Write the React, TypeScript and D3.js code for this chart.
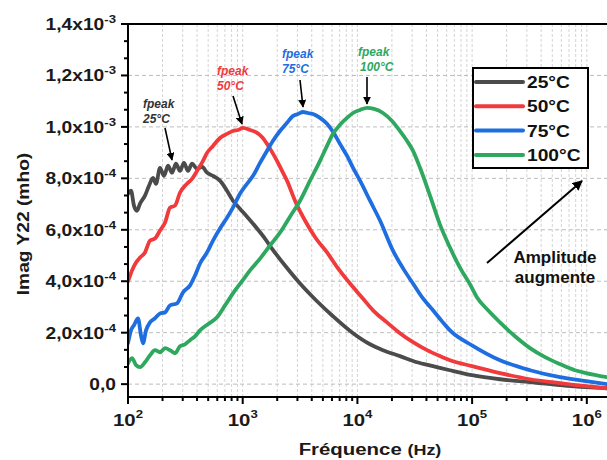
import React from "react";
import * as d3 from "d3";

// log10(frequency / Hz), Imag Y22 in units of 1e-4 mho
const S25_LF = [2.0,2.026,2.052,2.078,2.105,2.148,2.183,2.218,2.244,2.279,2.314,2.349,2.384,2.418,2.453,2.488,2.523,2.558,2.602,2.645,2.689,2.741,2.802,2.863,2.915,2.976,3.038,3.125,3.194,3.255,3.369,3.5,3.639,3.787,3.962,4.11,4.223,4.371,4.52,4.659,4.807,4.999,5.243,5.505,5.766,5.993,6.176];
const S25_V = [7.40,7.52,6.94,6.74,7.02,7.33,7.71,8.02,7.79,8.41,8.10,8.49,8.22,8.57,8.29,8.60,8.29,8.57,8.37,8.45,8.22,8.10,7.91,7.52,7.13,6.82,6.51,6.05,5.66,5.27,4.61,3.91,3.26,2.64,1.98,1.55,1.32,1.09,0.85,0.70,0.54,0.35,0.19,0.08,-0.04,-0.12,-0.16];

const S50_LF = [2.0,2.035,2.07,2.105,2.148,2.192,2.235,2.279,2.323,2.366,2.41,2.453,2.514,2.558,2.602,2.654,2.689,2.741,2.802,2.863,2.915,2.959,3.002,3.064,3.125,3.168,3.212,3.255,3.299,3.343,3.386,3.456,3.543,3.639,3.735,3.831,3.936,4.04,4.136,4.258,4.371,4.485,4.607,4.72,4.807,4.999,5.243,5.505,5.766,5.993,6.176];
const S50_V = [3.99,4.42,4.73,4.92,5.12,5.58,5.66,5.97,6.28,6.86,6.94,7.44,7.79,7.98,8.29,8.68,8.99,9.26,9.57,9.73,9.84,9.88,9.96,9.88,9.77,9.61,9.34,9.03,8.68,8.29,7.91,7.13,6.36,5.66,5.12,4.50,3.91,3.37,2.87,2.40,1.98,1.63,1.32,1.09,0.93,0.70,0.43,0.19,0.04,-0.08,-0.16];

const S75_LF = [2.0,2.026,2.052,2.087,2.113,2.131,2.157,2.192,2.235,2.279,2.323,2.366,2.427,2.48,2.541,2.584,2.628,2.689,2.741,2.802,2.863,2.915,2.976,3.038,3.09,3.151,3.212,3.264,3.325,3.386,3.439,3.482,3.526,3.569,3.613,3.674,3.735,3.787,3.848,3.909,3.962,4.023,4.11,4.197,4.31,4.398,4.485,4.572,4.659,4.738,4.807,4.999,5.243,5.505,5.766,5.993,6.176];
const S75_V = [1.59,2.09,2.29,2.56,1.90,1.59,2.09,2.40,2.56,2.75,2.79,3.06,3.14,3.57,3.84,4.22,4.69,5.12,5.58,6.05,6.47,6.86,7.40,7.79,8.10,8.60,9.07,9.46,9.84,10.16,10.43,10.50,10.58,10.54,10.50,10.35,10.12,9.81,9.34,8.88,8.41,7.91,7.13,6.36,5.19,4.50,3.91,3.33,2.87,2.44,2.09,1.51,0.93,0.54,0.27,0.12,0.00];

const S100_LF = [2.0,2.035,2.07,2.105,2.148,2.192,2.235,2.279,2.323,2.366,2.41,2.453,2.497,2.541,2.584,2.628,2.697,2.776,2.846,2.915,2.994,3.064,3.151,3.238,3.325,3.412,3.5,3.587,3.674,3.735,3.787,3.848,3.909,3.962,4.023,4.084,4.145,4.223,4.302,4.371,4.432,4.485,4.546,4.633,4.72,4.807,4.894,4.982,5.043,5.139,5.243,5.374,5.505,5.636,5.766,5.897,5.993,6.176];
const S100_V = [0.81,1.01,0.74,0.66,0.85,1.12,1.32,1.24,1.40,1.32,1.20,1.47,1.55,1.71,1.86,2.09,2.33,2.60,3.06,3.53,4.00,4.42,4.88,5.39,5.89,6.51,7.13,7.91,8.68,9.26,9.73,10.08,10.35,10.54,10.66,10.74,10.70,10.54,10.23,9.84,9.46,9.07,8.41,7.33,6.20,5.31,4.53,3.88,3.37,2.87,2.40,1.86,1.40,1.05,0.78,0.54,0.43,0.27];

const SERIES_NAMES = ["25°C", "50°C", "75°C", "100°C"];
const SERIES_COLORS = ["#4b4b4b", "#f03a3c", "#1f6ee0", "#2ea85f"];
const SERIES_LF = [S25_LF, S50_LF, S75_LF, S100_LF];
const SERIES_V = [S25_V, S50_V, S75_V, S100_V];

// peak values for annotations (1e-4 units)
const PEAK_V = [8.57, 9.96, 10.58, 10.74];

const Y_TICKS = [0, 2, 4, 6, 8, 10, 12, 14];
const Y_TICK_MAIN = ["0,0", "2,0x10", "4,0x10", "6,0x10", "8,0x10", "1,0x10", "1,2x10", "1,4x10"];
const Y_TICK_EXP = ["", "-4", "-4", "-4", "-4", "-3", "-3", "-3"];
const X_DECADES = [2, 3, 4, 5, 6];

const W = 607, H = 460;
const L = 128, R = 607, T = 24, B = 397;

export default function App() {
  const x = d3.scaleLog().domain([1e2, Math.pow(10, 6.176)]).range([L, R]);
  const y = d3.scaleLinear().domain([-0.5, 14]).range([B, T]);

  const line = d3
    .line<[number, number]>()
    .x((d) => x(Math.pow(10, d[0])))
    .y((d) => y(d[1]))
    .curve(d3.curveMonotoneX);

  const minorX: number[] = [];
  for (const e of [2, 3, 4, 5, 6]) {
    for (let m = 2; m <= 9; m++) {
      const v = m * Math.pow(10, e);
      if (v <= Math.pow(10, 6.176)) minorX.push(v);
    }
  }
  const minorY: number[] = [];
  for (let k = 1; k <= 21; k++) {
    if (k % 3 !== 0) minorY.push((k * 2) / 3);
  }

  const sx = 1.2;
  const axisFont = "'Liberation Sans', Arial, sans-serif";

  const annot = [
    { tx: 143, ty1: 108, ty2: 123, x1: 165, y1: 128, x2: 172, y2: 160 },
    { tx: 217, ty1: 75, ty2: 90, x1: 233, y1: 96, x2: 242, y2: 124 },
    { tx: 282, ty1: 58, ty2: 73, x1: 300, y1: 80, x2: 303, y2: 107 },
    { tx: 358, ty1: 56, ty2: 71, x1: 367, y1: 77, x2: 367, y2: 104 },
  ];

  return (
    <svg width={W} height={H} style={{ position: "absolute", left: 0, top: 0, background: "#fff" }}>
      <defs>
        <marker id="ah" viewBox="0 0 10 10" refX="9" refY="5" markerWidth="5" markerHeight="5" orient="auto">
          <path d="M0,0 L10,5 L0,10 z" fill="#000" />
        </marker>
        <marker id="ah2" viewBox="0 0 10 10" refX="9" refY="5" markerWidth="5" markerHeight="5" orient="auto">
          <path d="M0,0 L10,5 L0,10 z" fill="#000" />
        </marker>
        <clipPath id="plot">
          <rect x={L} y={T} width={R - L} height={B - T} />
        </clipPath>
      </defs>

      {/* grid */}
      {minorX.concat(X_DECADES.map((e) => Math.pow(10, e))).map((v, i) => (
        <line key={"gx" + i} x1={x(v)} x2={x(v)} y1={T} y2={B} stroke="#d4d4d4" strokeWidth={1} strokeDasharray="3,2" />
      ))}
      {Y_TICKS.map((v) => (
        <line key={"gy" + v} x1={L} x2={R} y1={y(v)} y2={y(v)} stroke="#bdbdbd" strokeWidth={1} strokeDasharray="4,3" />
      ))}

      {/* curves */}
      <g clipPath="url(#plot)">
        {SERIES_LF.map((lf, i) => (
          <path
            key={"s" + i}
            d={line(lf.map((f, j) => [f, SERIES_V[i][j]] as [number, number])) || ""}
            fill="none"
            stroke={SERIES_COLORS[i]}
            strokeWidth={3.8}
            strokeLinejoin="round"
            strokeLinecap="round"
          />
        ))}
      </g>

      {/* axes */}
      <line x1={L} x2={L} y1={T - 1} y2={B + 1} stroke="#000" strokeWidth={2} />
      <line x1={L - 1} x2={W} y1={B} y2={B} stroke="#000" strokeWidth={2} />
      <line x1={L - 1} x2={W} y1={T} y2={T} stroke="#000" strokeWidth={2} />

      {Y_TICKS.map((v) => (
        <line key={"ty" + v} x1={L - 7} x2={L} y1={y(v)} y2={y(v)} stroke="#000" strokeWidth={2} />
      ))}
      {minorY.map((v, i) => (
        <line key={"mty" + i} x1={L - 4} x2={L} y1={y(v)} y2={y(v)} stroke="#000" strokeWidth={2} />
      ))}
      {X_DECADES.map((e) => (
        <line key={"tx" + e} x1={x(Math.pow(10, e))} x2={x(Math.pow(10, e))} y1={B} y2={B + 7} stroke="#000" strokeWidth={2} />
      ))}
      {minorX.map((v, i) => (
        <line key={"mtx" + i} x1={x(v)} x2={x(v)} y1={B} y2={B + 4} stroke="#000" strokeWidth={2} />
      ))}

      {/* y tick labels */}
      {Y_TICKS.map((v, i) => (
        <text
          key={"yl" + v}
          transform={`translate(116,${y(v) + 6}) scale(${sx},1)`}
          textAnchor="end"
          fontFamily={axisFont}
          fontWeight="bold"
          fontSize={16}
          fill="#1a1a1a"
        >
          {Y_TICK_MAIN[i]}
          {Y_TICK_EXP[i] && (
            <tspan fontSize={11} dy={-7}>
              {Y_TICK_EXP[i]}
            </tspan>
          )}
        </text>
      ))}

      {/* x tick labels */}
      {X_DECADES.map((e) => (
        <text
          key={"xl" + e}
          transform={`translate(${x(Math.pow(10, e))},426) scale(${sx},1)`}
          textAnchor="middle"
          fontFamily={axisFont}
          fontWeight="bold"
          fontSize={17}
          fill="#1a1a1a"
        >
          10
          <tspan fontSize={11} dy={-8}>
            {e}
          </tspan>
        </text>
      ))}

      {/* axis titles */}
      <text
        transform={`translate(370,455) scale(${sx},1)`}
        textAnchor="middle"
        fontFamily={axisFont}
        fontWeight="bold"
        fontSize={17}
        fill="#1a1a1a"
      >
        Fréquence <tspan fontSize={15}>(Hz)</tspan>
      </text>
      <text
        transform={`translate(29,224) rotate(-90) scale(${sx},1)`}
        textAnchor="middle"
        fontFamily={axisFont}
        fontWeight="bold"
        fontSize={16}
        fill="#1a1a1a"
      >
        Imag Y22 (mho)
      </text>

      {/* peak annotations */}
      {annot.map((a, i) => (
        <g key={"an" + i}>
          <text x={a.tx} y={a.ty1} fontFamily={axisFont} fontWeight="bold" fontStyle="italic" fontSize={12} fill={i === 0 ? "#333" : SERIES_COLORS[i]}>
            fpeak
          </text>
          <text x={a.tx + (i === 3 ? 2 : 0)} y={a.ty2} fontFamily={axisFont} fontWeight="bold" fontStyle="italic" fontSize={12} fill={i === 0 ? "#333" : SERIES_COLORS[i]}>
            {SERIES_NAMES[i]}
          </text>
          <line x1={a.x1} y1={a.y1} x2={a.x2} y2={Math.min(a.y2, y(PEAK_V[i]) - 3)} stroke="#000" strokeWidth={1.6} markerEnd="url(#ah)" />
        </g>
      ))}

      {/* legend */}
      <rect x={473} y={68} width={115} height={100} fill="#fff" stroke="#000" strokeWidth={2} />
      {SERIES_NAMES.map((n, i) => (
        <g key={"lg" + i}>
          <line x1={476} x2={523} y1={82 + i * 24.3} y2={82 + i * 24.3} stroke={SERIES_COLORS[i]} strokeWidth={4} strokeLinecap="round" />
          <text
            transform={`translate(527,${88 + i * 24.3}) scale(${sx},1)`}
            fontFamily={axisFont}
            fontWeight="bold"
            fontSize={16}
            fill="#111"
          >
            {n}
          </text>
        </g>
      ))}

      {/* amplitude arrow */}
      <line x1={487} y1={263} x2={582} y2={181} stroke="#000" strokeWidth={2} markerEnd="url(#ah2)" />
      <text x={555} y={263} textAnchor="middle" fontFamily={axisFont} fontWeight="bold" fontSize={17} fill="#111">
        Amplitude
      </text>
      <text x={555} y={283} textAnchor="middle" fontFamily={axisFont} fontWeight="bold" fontSize={17} fill="#111">
        augmente
      </text>
    </svg>
  );
}
